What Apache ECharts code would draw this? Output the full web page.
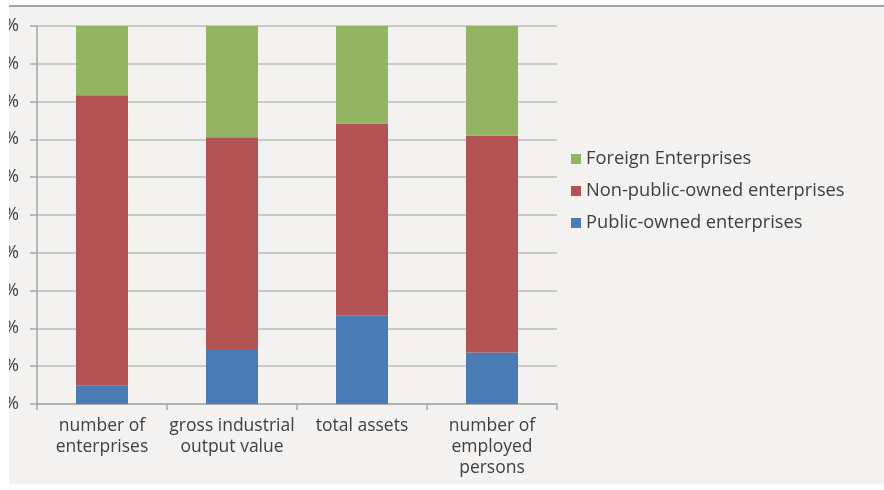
<!DOCTYPE html>
<html>
<head>
<meta charset="utf-8">
<script src="https://cdn.jsdelivr.net/npm/echarts@6/dist/echarts.min.js"></script>
<style>
  body { margin: 0; background: #ffffff; }
  #frame { position: absolute; left: 9px; top: 5px; width: 875px; border-top: 2px solid #a3a3a3; }
  #chart-container { width: 875px; height: 477px; background: #f3f2f0; }
</style>
</head>
<body>
<div id="frame"><div id="chart-container"></div></div>
<script>
const categorias = ['number of\nenterprises', 'gross industrial\noutput value', 'total assets', 'number of\nemployed\npersons'];
const publicas = [4.8, 14.3, 23.5, 13.6];
const noPublicas = [76.9, 56.3, 50.7, 57.4];
const extranjeras = [18.3, 29.4, 25.8, 29.0];
const etiquetasY = ['0%', '10%', '20%', '30%', '40%', '50%', '60%', '70%', '80%', '90%', '100%'];

let myChart = echarts.init(document.getElementById('chart-container'), null, { renderer: 'canvas' });

const fuente = '"Open Sans", sans-serif';

const opciones = {
  backgroundColor: '#f3f2f0',
  animation: false,
  grid: { left: 28, right: 327, top: 19, bottom: 80, containLabel: false, outerBoundsMode: 'none' },
  legend: {
    orient: 'vertical',
    left: 557,
    top: 137,
    icon: 'rect',
    itemWidth: 10,
    itemHeight: 10,
    itemGap: 12,
    data: ['Foreign Enterprises', 'Non-public-owned enterprises', 'Public-owned enterprises'],
    textStyle: { fontFamily: fuente, fontSize: 18.3, color: '#404040', lineHeight: 20 }
  },
  xAxis: {
    type: 'category',
    data: categorias,
    axisLine: { lineStyle: { color: '#a6a6a6', width: 1.5 } },
    axisTick: { show: true, length: 6, lineStyle: { color: '#a6a6a6', width: 1.5 } },
    axisLabel: {
      interval: 0,
      margin: 12,
      fontFamily: fuente,
      fontSize: 17.5,
      lineHeight: 21,
      color: '#404040'
    }
  },
  yAxis: {
    type: 'value',
    min: 0,
    max: 100,
    interval: 10,
    axisLine: { show: true, lineStyle: { color: '#a6a6a6', width: 1.5 } },
    axisTick: { show: true, length: 7, lineStyle: { color: '#a6a6a6', width: 1.5 } },
    splitLine: { lineStyle: { color: '#bcbcbc', width: 1.5 } },
    axisLabel: {
      margin: 18,
      fontFamily: fuente,
      fontSize: 17.5,
      color: '#404040',
      formatter: (v) => etiquetasY[Math.round(v / 10)]
    }
  },
  series: [
    { name: 'Public-owned enterprises', type: 'bar', stack: 'total', barWidth: '40%', data: publicas, itemStyle: { color: '#4a7bb4' } },
    { name: 'Non-public-owned enterprises', type: 'bar', stack: 'total', data: noPublicas, itemStyle: { color: '#b45353' } },
    { name: 'Foreign Enterprises', type: 'bar', stack: 'total', data: extranjeras, itemStyle: { color: '#93b462' } }
  ]
};

myChart.setOption(opciones);
window.addEventListener('resize', myChart.resize);
</script>
</body>
</html>
